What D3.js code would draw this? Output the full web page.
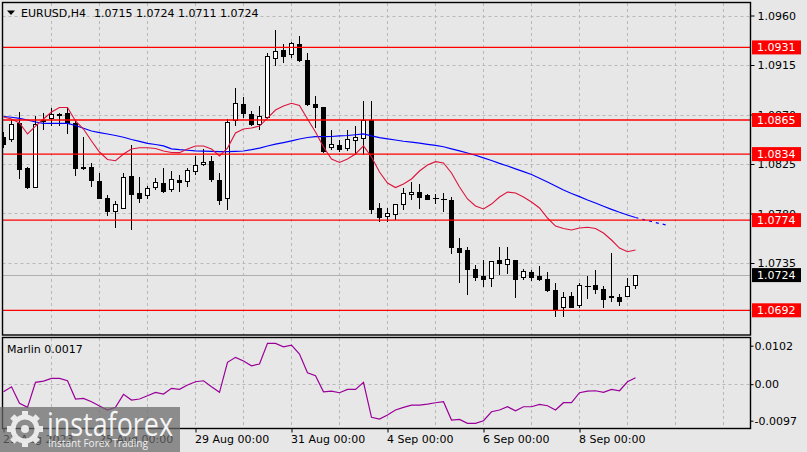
<!DOCTYPE html>
<html><head><meta charset="utf-8">
<script src="https://cdnjs.cloudflare.com/ajax/libs/d3/7.8.5/d3.min.js"></script>
<style>
body{margin:0;background:#e7e7e7;}
svg{display:block;font-family:"DejaVu Sans",sans-serif;}
</style></head>
<body><svg id="c" width="807" height="452"></svg>
<script>
// ---------- data ----------
const symbol = "EURUSD,H4";
const headerOHLC = ["1.0715","1.0724","1.0711","1.0724"];
const opens  = [1.0849,1.0847,1.0862,1.0821,1.0804,1.0864,1.0866,1.0870,1.0871,1.0862,1.0822,1.0822,1.0809,1.0794,1.0782,1.0785,1.0814,1.0798,1.0796,1.0804,
                1.0807,1.0802,1.0810,1.0809,1.0818,1.0825,1.0827,1.0810,1.0794,1.0865,1.0879,1.0870,1.0861,1.0867,1.0921,1.0928,1.0925,1.0934,1.0919,1.0879,
                1.0876,1.0840,1.0842,1.0839,1.0846,1.0848,1.0865,1.0785,1.0777,1.0779,1.0788,1.0797,1.0799,1.0796,1.0794,1.0793,1.0792,1.0748,1.0746,1.0729,
                1.0723,1.0721,1.0737,1.0734,1.0737,1.0722,1.0726,1.0723,1.0720,1.0710,1.0695,1.0705,1.0696,1.0714,1.0715,1.0711,1.0705,1.0704,1.0705,1.0715];
const highs  = [1.0854,1.0865,1.0872,1.0822,1.0869,1.0871,1.0876,1.0871,1.0877,1.0865,1.0850,1.0826,1.0817,1.0797,1.0791,1.0817,1.0842,1.0813,1.0805,1.0812,
                1.0821,1.0819,1.0815,1.0821,1.0832,1.0839,1.0832,1.0817,1.0866,1.0894,1.0886,1.0873,1.0878,1.0926,1.0947,1.0934,1.0936,1.0941,1.0926,1.0887,
                1.0877,1.0856,1.0847,1.0856,1.0860,1.0882,1.0882,1.0790,1.0785,1.0789,1.0803,1.0809,1.0807,1.0798,1.0798,1.0799,1.0795,1.0758,1.0750,1.0733,
                1.0738,1.0737,1.0750,1.0750,1.0738,1.0730,1.0729,1.0732,1.0727,1.0717,1.0709,1.0709,1.0717,1.0723,1.0729,1.0714,1.0744,1.0707,1.0721,1.0724];
const lows   = [1.0840,1.0845,1.0811,1.0802,1.0803,1.0856,1.0860,1.0860,1.0852,1.0814,1.0820,1.0804,1.0793,1.0778,1.0767,1.0784,1.0765,1.0790,1.0793,1.0801,
                1.0799,1.0800,1.0800,1.0804,1.0815,1.0823,1.0809,1.0788,1.0783,1.0860,1.0867,1.0860,1.0856,1.0866,1.0914,1.0917,1.0921,1.0918,1.0878,1.0858,
                1.0835,1.0838,1.0836,1.0837,1.0833,1.0833,1.0780,1.0772,1.0772,1.0774,1.0783,1.0792,1.0784,1.0792,1.0789,1.0781,1.0743,1.0717,1.0706,1.0719,
                1.0713,1.0713,1.0724,1.0725,1.0703,1.0720,1.0719,1.0719,1.0709,1.0686,1.0686,1.0694,1.0694,1.0702,1.0707,1.0694,1.0700,1.0696,1.0704,1.0711];
const closes = [1.0843,1.0861,1.0820,1.0804,1.0861,1.0865,1.0870,1.0869,1.0862,1.0821,1.0821,1.0810,1.0794,1.0782,1.0788,1.0813,1.0797,1.0794,1.0803,1.0808,
                1.0800,1.0811,1.0808,1.0819,1.0824,1.0826,1.0811,1.0792,1.0863,1.0880,1.0871,1.0861,1.0868,1.0923,1.0927,1.0923,1.0935,1.0919,1.0879,1.0876,
                1.0836,1.0843,1.0838,1.0847,1.0849,1.0865,1.0784,1.0776,1.0780,1.0788,1.0798,1.0799,1.0795,1.0793,1.0794,1.0793,1.0749,1.0745,1.0729,1.0722,
                1.0720,1.0736,1.0735,1.0738,1.0720,1.0727,1.0722,1.0720,1.0710,1.0693,1.0704,1.0695,1.0715,1.0714,1.0711,1.0702,1.0704,1.0700,1.0714,1.0724];
const maRed  = [1.08677,1.08659,1.08623,1.08523,1.08595,1.08659,1.08723,1.08764,1.08764,1.08641,1.08568,1.08459,1.08359,1.08291,1.08280,1.08341,1.08386,1.08398,1.08398,1.08391,
                1.08368,1.08355,1.08353,1.08386,1.08414,1.08414,1.08386,1.08323,1.08395,1.08532,1.08568,1.08577,1.08595,1.08668,1.08741,1.08777,1.08802,1.08782,1.08659,1.08541,
                1.08405,1.08295,1.08264,1.08295,1.08341,1.08414,1.08314,1.08177,1.08077,1.08036,1.08068,1.08114,1.08186,1.08241,1.08271,1.08259,1.08168,1.08041,1.07932,1.07868,
                1.07841,1.07886,1.07950,1.07995,1.07986,1.07950,1.07905,1.07850,1.07759,1.07686,1.07664,1.07650,1.07668,1.07675,1.07664,1.07623,1.07559,1.07486,1.07453,1.07468];
const maBlue = [1.08682,1.08675,1.08665,1.08650,1.08632,1.08620,1.08620,1.08620,1.08620,1.08600,1.08575,1.08550,1.08536,1.08523,1.08509,1.08493,1.08473,1.08455,1.08438,1.08427,
                1.08415,1.08388,1.08380,1.08375,1.08370,1.08367,1.08365,1.08363,1.08363,1.08365,1.08368,1.08380,1.08395,1.08414,1.08430,1.08445,1.08461,1.08477,1.08491,1.08498,
                1.08498,1.08500,1.08505,1.08509,1.08516,1.08523,1.08505,1.08489,1.08479,1.08468,1.08457,1.08448,1.08439,1.08429,1.08419,1.08407,1.08388,1.08370,1.08350,1.08330,
                1.08306,1.08282,1.08256,1.08232,1.08206,1.08181,1.08155,1.08121,1.08086,1.08050,1.08014,1.07982,1.07953,1.07923,1.07895,1.07866,1.07838,1.07811,1.07786,1.07764];
const maBlueAhead = [1.07764,1.07745,1.07727,1.07709,1.07693];
const marlin = [-0.00202,-0.00069,-0.00509,-0.00616,0.00048,0.00082,0.00154,0.00154,0.00090,-0.00395,-0.00377,-0.00467,-0.00581,-0.00687,-0.00616,-0.00271,-0.00422,-0.00395,-0.00308,-0.00218,
                -0.00263,-0.00111,-0.00138,-0.00024,0.00064,0.00090,-0.00069,-0.00218,0.00578,0.00711,0.00613,0.00488,0.00533,0.01083,0.01083,0.00992,0.01037,0.00799,0.00302,0.00223,
                -0.00202,-0.00183,-0.00228,-0.00138,-0.00138,0.00048,-0.00881,-0.00926,-0.00820,-0.00687,-0.00616,-0.00555,-0.00555,-0.00528,-0.00493,-0.00467,-0.00953,-0.00934,-0.01040,-0.01040,
                -0.00971,-0.00732,-0.00687,-0.00600,-0.00706,-0.00600,-0.00600,-0.00536,-0.00573,-0.00687,-0.00493,-0.00493,-0.00228,-0.00183,-0.00175,-0.00218,-0.00138,-0.00175,0.00064,0.0017];
const levels = [1.0931,1.0865,1.0834,1.0774,1.0692];
const lastPrice = 1.0724;
const priceTicks = [1.0960,1.0915,1.0870,1.0825,1.0780,1.0735];
const marlinTicks = [0.0102,0,-0.0097];
const marlinTickText = ["0.0102","0.00","-0.0097"];
const marlinName = "Marlin";
const timeLabelBars = [0,12,24,36,48,60,72];
const timeLabels = ["23 Aug 2023","25 Aug 00:00","29 Aug 00:00","31 Aug 00:00","4 Sep 00:00","6 Sep 00:00","8 Sep 00:00"];
const gridBars = d3.range(6, 91, 6);

// ---------- layout ----------
const L = 2.5, R = 750.5, T = 2.5, B = 335, IT = 337.5, IB = 428.5;
const svg = d3.select("#c");
const x = d3.scaleLinear().domain([0, 79]).range([3.5, 635.5]);
const y = d3.scaleLinear().domain([1.0735, 1.0960]).range([263, 15.5]);
const ym = d3.scaleLinear().domain([-0.0097, 0.0102]).range([420.7, 345.7]);

svg.append("rect").attr("width",807).attr("height",452).attr("fill","#e7e7e7");
const defs = svg.append("defs");
defs.append("clipPath").attr("id","cm").append("rect").attr("x",L).attr("y",T).attr("width",R-L).attr("height",B-T);
defs.append("clipPath").attr("id","ci").append("rect").attr("x",L).attr("y",IT).attr("width",R-L).attr("height",IB-IT);

const gridCol = "#b9b9b9";
const main = svg.append("g").attr("clip-path","url(#cm)");
// grids
main.selectAll(".vg").data(gridBars).join("line")
  .attr("x1",d=>x(d)).attr("x2",d=>x(d)).attr("y1",T).attr("y2",B)
  .attr("stroke",gridCol).attr("stroke-dasharray","3,3").attr("shape-rendering","crispEdges");
main.selectAll(".hg").data(priceTicks).join("line")
  .attr("x1",L).attr("x2",R).attr("y1",d=>Math.round(y(d))+0.5).attr("y2",d=>Math.round(y(d))+0.5)
  .attr("stroke",gridCol).attr("stroke-dasharray","3,3");
// current price line
main.append("line").attr("x1",L).attr("x2",R)
  .attr("y1",Math.round(y(lastPrice))+0.5).attr("y2",Math.round(y(lastPrice))+0.5)
  .attr("stroke","#b0b0b0");

// candles
const idx = d3.range(opens.length);
const cg = main.append("g").attr("shape-rendering","crispEdges");
cg.selectAll(".w").data(idx).join("line")
  .attr("x1",i=>x(i)).attr("x2",i=>x(i))
  .attr("y1",i=>y(highs[i])).attr("y2",i=>y(lows[i]))
  .attr("stroke","#000");
cg.selectAll(".b").data(idx.filter(i=>Math.abs(opens[i]-closes[i])>0.00004)).join("rect")
  .attr("x",i=>x(i)-2).attr("width",4)
  .attr("y",i=>y(Math.max(opens[i],closes[i])))
  .attr("height",i=>Math.abs(y(opens[i])-y(closes[i])))
  .attr("fill",i=>closes[i]>opens[i]?"#ffffff":"#000000")
  .attr("stroke","#000");
cg.selectAll(".d").data(idx.filter(i=>Math.abs(opens[i]-closes[i])<=0.00004)).join("line")
  .attr("x1",i=>x(i)-2.5).attr("x2",i=>x(i)+3)
  .attr("y1",i=>y(opens[i])).attr("y2",i=>y(opens[i]))
  .attr("stroke","#000");

// moving averages
const lineP = d3.line().x((d,i)=>x(i)).y(d=>y(d));
main.append("path").attr("d",lineP(maBlue)).attr("fill","none").attr("stroke","#0000ff").attr("stroke-width",1.2);
main.append("path").attr("d",d3.line().x((d,i)=>x(79+i)).y(d=>y(d))(maBlueAhead))
  .attr("fill","none").attr("stroke","#0000ff").attr("stroke-width",1.2).attr("stroke-dasharray","3,4");
main.append("path").attr("d",lineP(maRed)).attr("fill","none").attr("stroke","#dc143c").attr("stroke-width",1.1);

// horizontal levels
main.selectAll(".lv").data(levels).join("line")
  .attr("x1",L).attr("x2",R).attr("y1",d=>y(d)).attr("y2",d=>y(d))
  .attr("stroke","#ff0000").attr("stroke-width",1.3);

// frames
svg.append("rect").attr("x",L).attr("y",T).attr("width",R-L).attr("height",B-T)
  .attr("fill","none").attr("stroke","#000").attr("stroke-width",1.4);

// price axis
const ax = svg.append("g").attr("transform",`translate(${R},0)`)
  .call(d3.axisRight(y).tickValues(priceTicks).tickFormat(d3.format(".4f")).tickSize(4).tickPadding(3));
ax.select(".domain").remove();
ax.selectAll("text").attr("font-size",11).attr("font-family","DejaVu Sans").attr("fill","#000");
ax.selectAll("line").attr("stroke","#000");

// level labels
const lab = svg.append("g");
const allLab = levels.map(v=>({v,bg:"#ff0000"})).concat([{v:lastPrice,bg:"#000000"}]);
lab.selectAll("rect").data(allLab).join("rect")
  .attr("x",752).attr("width",49).attr("y",d=>y(d.v)-7).attr("height",14).attr("fill",d=>d.bg);
lab.selectAll("text").data(allLab).join("text")
  .attr("x",757).attr("y",d=>y(d.v)).attr("dy","0.36em")
  .attr("font-size",11).attr("fill","#fff").text(d=>d.v.toFixed(4));

// header
svg.append("path").attr("d","M7,10.5 L15,10.5 L11,15 Z").attr("fill","#000");
svg.append("text").attr("x",21).attr("y",17).attr("font-size",11).attr("fill","#000").text(symbol);
svg.append("text").attr("x",94).attr("y",17).attr("font-size",11).attr("fill","#000").text(headerOHLC.join(" "));

// ---------- indicator ----------
const ind = svg.append("g").attr("clip-path","url(#ci)");
ind.selectAll(".vg").data(gridBars).join("line")
  .attr("x1",d=>x(d)).attr("x2",d=>x(d)).attr("y1",IT).attr("y2",IB)
  .attr("stroke",gridCol).attr("stroke-dasharray","3,3").attr("shape-rendering","crispEdges");
ind.append("line").attr("x1",L).attr("x2",R).attr("y1",Math.round(ym(0))+0.5).attr("y2",Math.round(ym(0))+0.5)
  .attr("stroke",gridCol).attr("stroke-dasharray","3,3");
ind.append("path").attr("d",d3.line().x((d,i)=>x(i)).y(d=>ym(d))(marlin))
  .attr("fill","none").attr("stroke","#990099").attr("stroke-width",1.2);
svg.append("rect").attr("x",L).attr("y",IT).attr("width",R-L).attr("height",IB-IT)
  .attr("fill","none").attr("stroke","#000").attr("stroke-width",1.4);
svg.append("text").attr("x",7).attr("y",352.5).attr("font-size",11).attr("fill","#000")
  .text(marlinName+" "+marlin[marlin.length-1].toFixed(4));
const iax = svg.append("g").attr("transform",`translate(${R},0)`)
  .call(d3.axisRight(ym).tickValues(marlinTicks).tickFormat((d,i)=>marlinTickText[i]).tickSize(3).tickPadding(1));
iax.select(".domain").remove();
iax.selectAll("text").attr("font-size",11).attr("font-family","DejaVu Sans").attr("fill","#000");
iax.selectAll("line").attr("stroke","#000");

// time axis
const tax = svg.append("g").attr("transform",`translate(0,${IB})`)
  .call(d3.axisBottom(x).tickValues(timeLabelBars).tickFormat((d,i)=>timeLabels[i]).tickSize(4).tickPadding(3));
tax.select(".domain").remove();
tax.selectAll("line").attr("stroke","#000");
tax.selectAll("text").attr("font-size",11).attr("font-family","DejaVu Sans").attr("fill","#000")
  .attr("text-anchor","start").attr("x",-1);

// ---------- watermark ----------
const wm = svg.append("g");
wm.append("rect").attr("x",0).attr("y",407).attr("width",180).attr("height",45).attr("fill","#6a6a6a").attr("opacity",0.72);
const gear = wm.append("g").attr("transform","translate(25,429)").attr("fill","#f2f2f2").attr("opacity",0.92);
d3.range(8).forEach(k=>{
  gear.append("rect").attr("x",-3).attr("y",-18).attr("width",6).attr("height",8).attr("transform",`rotate(${k*45})`);
});
gear.append("circle").attr("r",12).attr("fill","none").attr("stroke","#f2f2f2").attr("stroke-width",5);
gear.append("circle").attr("r",4);
wm.append("text").attr("x",47).attr("y",436).attr("font-family","Open Sans").attr("font-size",33)
  .attr("fill","#f4f4f4").attr("textLength",126).attr("lengthAdjust","spacingAndGlyphs").text("instaforex");
wm.append("text").attr("x",48).attr("y",447).attr("font-family","Open Sans").attr("font-size",11.5)
  .attr("fill","#eeeeee").attr("textLength",100).attr("lengthAdjust","spacingAndGlyphs").text("Instant Forex Trading");
</script></body></html>
